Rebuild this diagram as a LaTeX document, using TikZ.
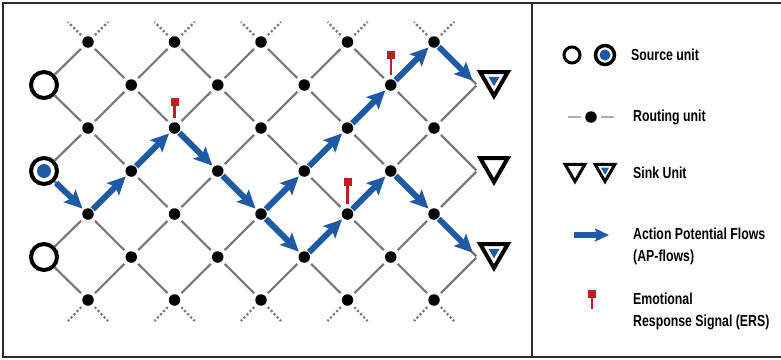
\documentclass[tikz,border=0pt]{standalone}
\usepackage{fontspec}
\usetikzlibrary{arrows.meta, positioning, shapes.geometric}
\newfontfamily\legendfont{Liberation Sans}[FakeStretch=0.77]
\definecolor{apblue}{RGB}{31,90,167}
\definecolor{ersred}{RGB}{190,30,35}
\definecolor{linkgray}{RGB}{120,120,120}
\definecolor{framegray}{RGB}{45,45,45}

\begin{document}
\begin{tikzpicture}[
    x=1pt, y=-1pt,
    dot/.style={circle, fill=black, minimum size=11.5pt, inner sep=0pt, outer sep=0pt},
    source/.style={circle, draw=black, line width=4pt, minimum size=26pt, inner sep=0pt},
    srcon/.style={source, path picture={\fill[apblue] (path picture bounding box.center) circle (#1);}},
    srcon/.default=7pt,
    sink/.style={regular polygon, regular polygon sides=3, shape border rotate=180,
        draw=black, line width=4pt, line join=miter, minimum size=32pt, inner sep=0pt},
    sinkon/.style={sink, path picture={\fill[apblue] (path picture bounding box.north)
        +(-#1,-0.87*#1) -- +(#1,-0.87*#1) -- +(0,-2.6*#1) -- cycle;}},
    sinkon/.default=5.5pt,
    link/.style={linkgray, line width=2.2pt, shorten <=4pt, shorten >=4pt},
    stub/.style={link, dash pattern=on 2.2pt off 2.2pt, shorten >=0pt},
    apflow/.style={-{Stealth[length=18pt, width=17pt, inset=3.5pt]}, apblue, line width=6pt,
        shorten <=1pt, shorten >=2pt},
    erssq/.style={rectangle, fill=ersred, minimum size=8pt, inner sep=0pt},
    ers/.style={ersred, line width=2.5pt},
    frame/.style={framegray, line width=1.5pt},
    legtext/.style={anchor=west, inner sep=0pt, align=left,
        font=\legendfont\bfseries\fontsize{16}{22}\selectfont}
]
\useasboundingbox (0,0) rectangle (781,359);

% frame and divider
\draw[frame] (781,3) -- (3,3) -- (3,357) -- (781,357);
\draw[frame] (532,3) -- (532,357);

% routing units
\foreach \c in {1,...,9}
  \foreach \r in {0,...,6}{
    \ifodd\numexpr\c+\r\relax
      \node[dot] (d-\c-\r) at ({44.75+43.25*\c}, {42+43*\r}) {};
    \fi
  }

% source and sink units
\node[source] (s1) at (44,85) {};
\node[srcon] (s3) at (44,171) {};
\node[source] (s5) at (44,257) {};
\node[sinkon] (k1) at (494,80) {};
\node[sink] (k3) at (494,166) {};
\node[sinkon] (k5) at (494,252) {};
\coordinate (k1-port) at (477,85);
\coordinate (k3-port) at (477,171);
\coordinate (k5-port) at (477,257);

% lattice links
\foreach \c in {1,...,8}
  \foreach \r in {0,...,6}{
    \ifodd\numexpr\c+\r\relax
      \pgfmathtruncatemacro\cn{\c+1}
      \pgfmathtruncatemacro\rd{\r+1}
      \pgfmathtruncatemacro\ru{\r-1}
      \ifnum\r<6 \draw[link] (d-\c-\r) -- (d-\cn-\rd);\fi
      \ifnum\r>0 \draw[link] (d-\c-\r) -- (d-\cn-\ru);\fi
    \fi
  }
\foreach \r in {1,3,5}{
  \pgfmathtruncatemacro\ru{\r-1}
  \pgfmathtruncatemacro\rd{\r+1}
  \draw[link, shorten <=0pt] (s\r) -- (d-1-\ru);
  \draw[link, shorten <=0pt] (s\r) -- (d-1-\rd);
  \draw[link, shorten >=1pt] (d-9-\ru) -- (k\r-port);
  \draw[link, shorten >=1pt] (d-9-\rd) -- (k\r-port);
}

% open ends
\foreach \c in {1,3,5,7,9}{
  \coordinate (ul-\c) at ({44.75+43.25*\c-20}, 22);
  \coordinate (ur-\c) at ({44.75+43.25*\c+20}, 22);
  \coordinate (dl-\c) at ({44.75+43.25*\c-20}, 321);
  \coordinate (dr-\c) at ({44.75+43.25*\c+20}, 321);
  \draw[stub] (d-\c-0) -- (ul-\c);
  \draw[stub] (d-\c-0) -- (ur-\c);
  \draw[stub] (d-\c-6) -- (dl-\c);
  \draw[stub] (d-\c-6) -- (dr-\c);
}

% AP-flows
\draw[apflow, shorten <=2pt] (s3) -- (d-1-4);
\draw[apflow] (d-1-4) -- (d-2-3);
\draw[apflow] (d-2-3) -- (d-3-2);
\draw[apflow] (d-3-2) -- (d-4-3);
\draw[apflow] (d-4-3) -- (d-5-4);
\draw[apflow] (d-5-4) -- (d-6-3);
\draw[apflow] (d-6-3) -- (d-7-2);
\draw[apflow] (d-7-2) -- (d-8-1);
\draw[apflow] (d-8-1) -- (d-9-0);
\draw[apflow, shorten >=6pt] (d-9-0) -- (k1-port);
\draw[apflow] (d-5-4) -- (d-6-5);
\draw[apflow] (d-6-5) -- (d-7-4);
\draw[apflow] (d-7-4) -- (d-8-3);
\draw[apflow] (d-8-3) -- (d-9-4);
\draw[apflow, shorten >=6pt] (d-9-4) -- (k5-port);

% emotional response signals
\node[erssq, above=16pt of d-3-2] (ers-a) {};
\node[erssq, above=20pt of d-8-1] (ers-b) {};
\node[erssq, above=22pt of d-7-4] (ers-c) {};
\draw[ers, shorten >=4.5pt] (ers-a) -- (d-3-2);
\draw[ers, shorten >=4.5pt] (ers-b) -- (d-8-1);
\draw[ers, shorten >=4.5pt] (ers-c) -- (d-7-4);

% legend
\node[source, minimum size=16pt, line width=3pt] (leg-s1) at (572,55) {};
\node[srcon=5.5pt, minimum size=19pt, line width=3.5pt] (leg-s2) at (605,55) {};
\node[legtext] (t-src) at (631,55) {Source unit};

\node[dot] (leg-d) at (591,117) {};
\coordinate (leg-dw) at (564,117);
\coordinate (leg-de) at (618,117);
\draw[link, linkgray!60] (leg-dw) -- (leg-d);
\draw[link, linkgray!60] (leg-d) -- (leg-de);
\node[legtext] (t-rout) at (633,117) {Routing unit};

\node[sink, minimum size=23pt, line width=3pt] (leg-k1) at (575,170) {};
\node[sinkon=4pt, minimum size=23pt, line width=3pt] (leg-k2) at (605,170) {};
\node[legtext] (t-sink) at (633,173) {Sink Unit};

\coordinate (ap-a) at (574,235);
\coordinate (ap-b) at (609,235);
\draw[apflow, -{Stealth[length=14pt, width=13pt, inset=2.5pt]}, line width=5.5pt,
    shorten <=0pt, shorten >=0pt] (ap-a) -- (ap-b);
\node[legtext] (t-ap) at (633,246) {Action Potential Flows\\(AP-flows)};

\node[erssq] (leg-e) at (592,294) {};
\coordinate (leg-ee) at (592,309);
\draw[ers] (leg-e) -- (leg-ee);
\node[legtext] (t-ers) at (633,311) {Emotional\\Response Signal (ERS)};
\end{tikzpicture}
\end{document}
